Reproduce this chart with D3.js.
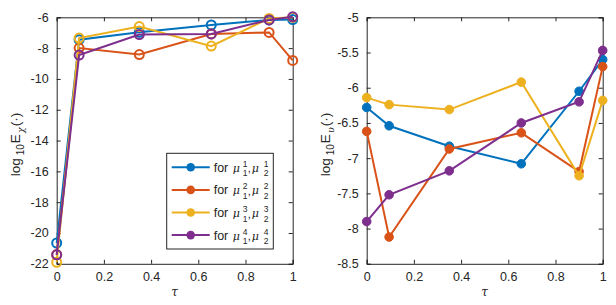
<!DOCTYPE html>
<html>
<head>
<meta charset="utf-8">
<script src="https://cdn.jsdelivr.net/npm/d3@7"></script>
<style>
  body { margin: 0; background: #fff; }
  text { font-family: "Liberation Sans", Arial, sans-serif; }
</style>
</head>
<body>
<div id="graph"></div>
<script>
var tau = [0, 0.095, 0.35, 0.655, 0.9, 1];
var seriesNames = ["1", "2", "3", "4"];
var colors = ["#0072BD", "#D95319", "#EDB120", "#7E2F8E"];

// left panel: log10 E_chi
var chi1 = [-20.65, -7.45, -6.97, -6.5, -6.17, -6.15];
var chi2 = [-21.4, -8.0, -8.42, -7.08, -6.98, -8.8];
var chi3 = [-21.9, -7.35, -6.6, -7.87, -6.07, -6.0];
var chi4 = [-21.42, -8.45, -7.12, -7.08, -6.17, -5.97];
var chiTicks = [-22, -20, -18, -16, -14, -12, -10, -8, -6];

// right panel: log10 E_upsilon
var ups1 = [-6.28, -6.54, -6.83, -7.08, -6.05, -5.6];
var ups2 = [-6.62, -8.12, -6.87, -6.64, -7.19, -5.7];
var ups3 = [-6.14, -6.24, -6.31, -5.92, -7.25, -6.18];
var ups4 = [-7.9, -7.52, -7.18, -6.5, -6.2, -5.47];
var upsTicks = [-8.5, -8, -7.5, -7, -6.5, -6, -5.5, -5];
var tauTicks = [0, 0.2, 0.4, 0.6, 0.8, 1];

var svg = d3.select("#graph").append("svg")
  .attr("width", 616).attr("height", 305);

function panel(left, series, yDomain, yTicks, hollow, sym) {
  var top = 17.3, height = 246.5, width = 236;
  var g = svg.append("g").attr("transform", "translate(" + left + "," + top + ")");
  var x = d3.scaleLinear().domain([0, 1]).range([0, width]);
  var y = d3.scaleLinear().domain(yDomain).range([height, 0]);

  var fmt = function(d){ return String(d); };
  var ax = [
    d3.axisBottom(x).tickValues(tauTicks).tickFormat(fmt).tickSize(-4).tickPadding(8),
    d3.axisTop(x).tickValues(tauTicks).tickFormat("").tickSize(-4),
    d3.axisLeft(y).tickValues(yTicks).tickFormat(fmt).tickSize(-4).tickPadding(8),
    d3.axisRight(y).tickValues(yTicks).tickFormat("").tickSize(-4)
  ];
  var tr = ["translate(0," + height + ")", "translate(0,0)", "translate(0,0)", "translate(" + width + ",0)"];
  ax.forEach(function(a, i){
    var gg = g.append("g").attr("transform", tr[i]).call(a);
    gg.select(".domain").attr("stroke", "#262626").attr("stroke-width", 1);
    gg.selectAll(".tick line").attr("stroke", "#262626");
    gg.selectAll(".tick text").attr("fill", "#262626").style("font-size", "12.5px")
      .style("font-family", "Liberation Sans, Arial, sans-serif");
  });

  var line = d3.line().x(function(d, i){ return x(tau[i]); }).y(function(d){ return y(d); });
  series.forEach(function(s, k){
    g.append("path").datum(s).attr("d", line)
      .attr("fill", "none").attr("stroke", colors[k]).attr("stroke-width", 2);
    g.selectAll(".m" + k).data(s).enter().append("circle")
      .attr("cx", function(d, i){ return x(tau[i]); })
      .attr("cy", function(d){ return y(d); })
      .attr("r", hollow ? 4.5 : 4.3)
      .attr("fill", hollow ? "none" : colors[k])
      .attr("stroke", colors[k]).attr("stroke-width", hollow ? 2 : 1);
  });

  // x label
  g.append("text").attr("x", width / 2).attr("y", height + 32)
    .attr("text-anchor", "middle").style("font-family", "DejaVu Serif, serif")
    .style("font-style", "italic").style("font-size", "12px").attr("fill", "#262626").text("τ");

  // y label
  var yl = g.append("text").attr("transform", "translate(-37," + (height / 2 + 4) + ") rotate(-90)")
    .attr("text-anchor", "middle").attr("fill", "#262626").style("font-size", "13.5px");
  yl.append("tspan").text("log");
  yl.append("tspan").attr("dx", 3).attr("dy", 4).style("font-size", "10px").text("10");
  yl.append("tspan").attr("dx", 1).attr("dy", -4).text("E");
  yl.append("tspan").attr("dx", 1).attr("dy", 4).style("font-size", "9.5px").style("font-style", "italic")
    .style("font-family", "DejaVu Serif, serif").text(sym);
  yl.append("tspan").attr("dx", 1).attr("dy", -4).text("(·)");
  return g;
}

panel(56.7, [chi1, chi2, chi3, chi4], [-22, -6], chiTicks, true, "χ");
panel(366.7, [ups1, ups2, ups3, ups4], [-8.5, -5], upsTicks, false, "υ");

// legend (left panel)
var lg = svg.append("g").attr("transform", "translate(166.7,153.3)");
lg.append("rect").attr("width", 106.6).attr("height", 95.7)
  .attr("fill", "#fff").attr("stroke", "#262626").attr("stroke-width", 1);
seriesNames.forEach(function(n, k){
  var cy = 14 + k * 22.6;
  var e = lg.append("g").attr("transform", "translate(0," + cy + ")");
  e.append("line").attr("x1", 5).attr("x2", 43).attr("stroke", colors[k]).attr("stroke-width", 2);
  e.append("circle").attr("cx", 24).attr("r", 4.3).attr("fill", colors[k]);
  var t = function(xx, yy, s, size, it){
    e.append("text").attr("x", xx).attr("y", yy).attr("fill", "#262626")
      .style("font-size", size + "px")
      .style("font-family", it ? "DejaVu Serif, serif" : "Liberation Sans, Arial, sans-serif")
      .style("font-style", it ? "italic" : "normal").text(s);
  };
  t(47, 4.5, "for", 12.5, false);
  t(66, 4.5, "μ", 11, true);
  t(76, -0.5, n, 8.5, false);
  t(76, 9, "1", 8.5, false);
  t(81, 5, ",", 11, false);
  t(85, 4.5, "μ", 11, true);
  t(97, -0.5, n, 8.5, false);
  t(97, 9, "2", 8.5, false);
});
</script>
</body>
</html>
